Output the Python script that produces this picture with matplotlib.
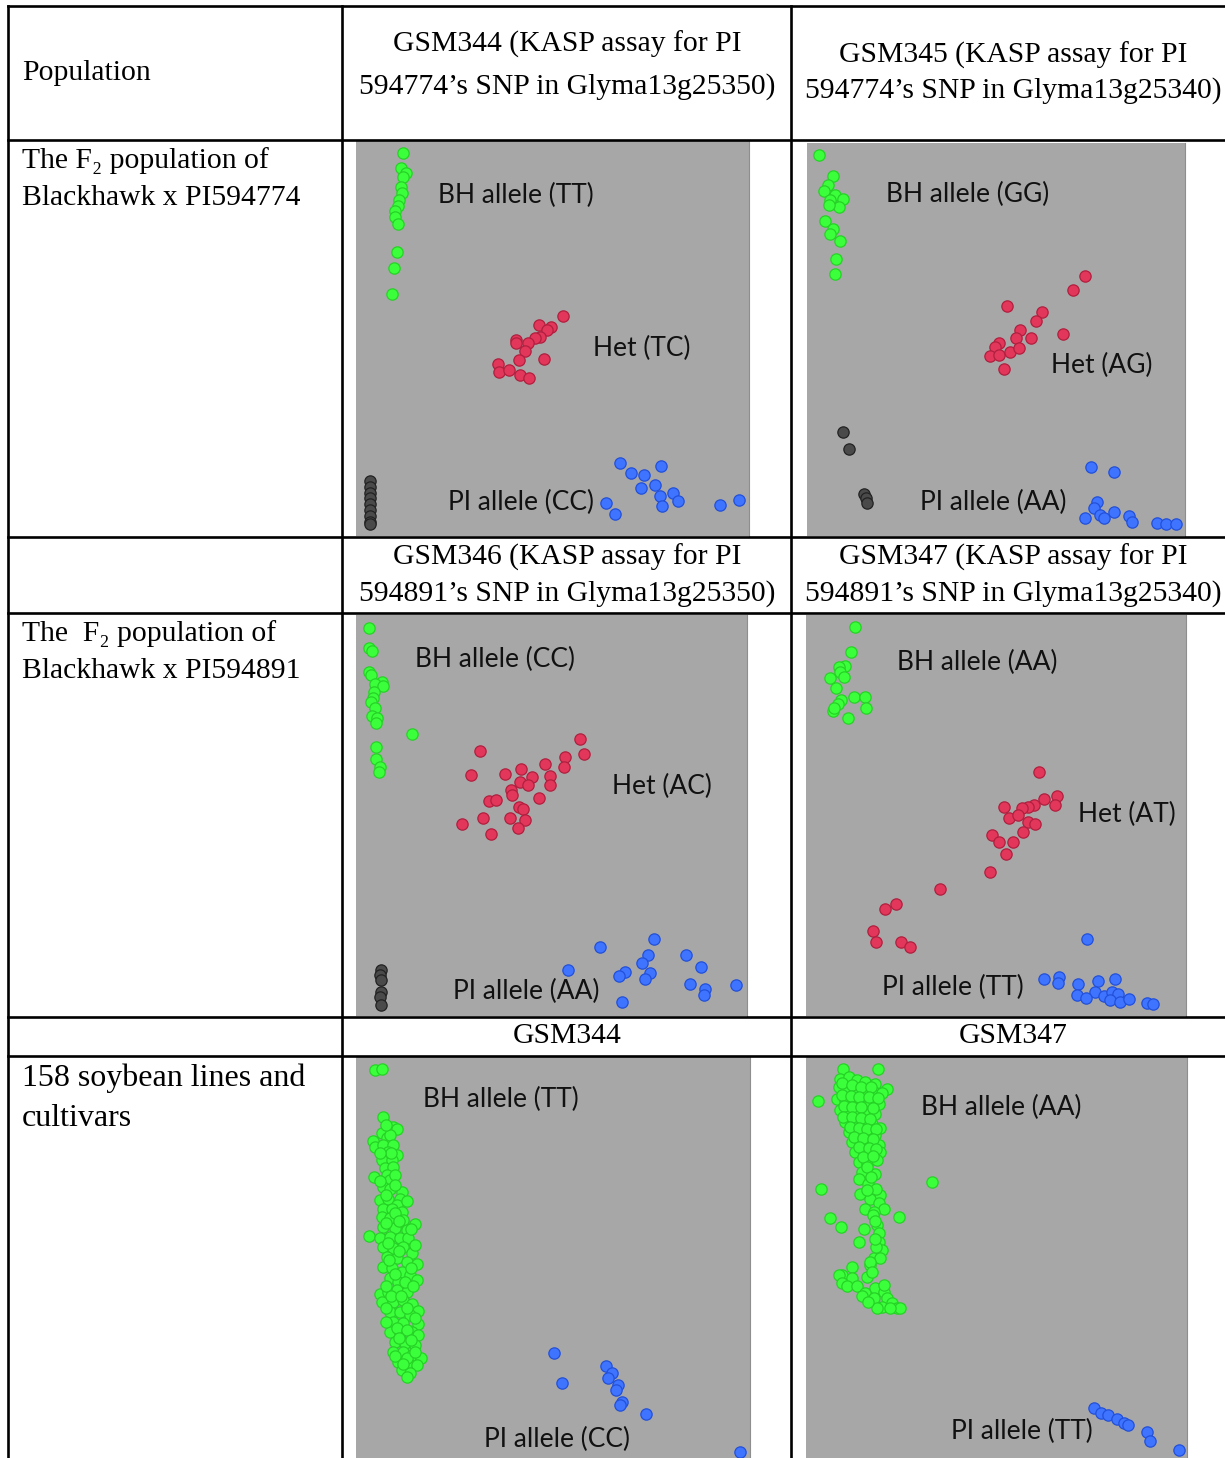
import matplotlib

matplotlib.use("Agg")
import matplotlib.pyplot as plt
from matplotlib.lines import Line2D

W, H = 1225, 1458

# KASP cluster plots (normalised FAM / HEX signal, 0-1)
# GSM344 on the Blackhawk x PI594774 F2
gsm344_f2_bh = [(0.120, 0.969), (0.114, 0.931), (0.126, 0.918), (0.120, 0.910), (0.114, 0.884),
                (0.118, 0.868), (0.110, 0.851), (0.108, 0.835), (0.099, 0.824), (0.099, 0.807),
                (0.108, 0.789), (0.105, 0.720), (0.097, 0.678), (0.091, 0.612)]
gsm344_f2_het = [(0.527, 0.557), (0.465, 0.534), (0.497, 0.530), (0.485, 0.522), (0.468, 0.505),
                 (0.455, 0.500), (0.438, 0.488), (0.408, 0.496), (0.408, 0.488), (0.431, 0.468),
                 (0.478, 0.449), (0.415, 0.446), (0.362, 0.435), (0.364, 0.416), (0.390, 0.420),
                 (0.417, 0.408), (0.440, 0.401)]
gsm344_f2_pi = [(0.671, 0.186), (0.775, 0.176), (0.701, 0.159), (0.732, 0.154), (0.760, 0.129),
                (0.725, 0.121), (0.807, 0.108), (0.773, 0.100), (0.819, 0.089), (0.637, 0.083),
                (0.779, 0.076), (0.658, 0.056), (0.925, 0.078), (0.974, 0.091)]
gsm344_f2_ntc = [(0.036, 0.140), (0.036, 0.125), (0.036, 0.110), (0.036, 0.095), (0.036, 0.081),
                 (0.036, 0.066), (0.036, 0.051), (0.036, 0.036), (0.036, 0.030)]

# GSM345 on the Blackhawk x PI594774 F2
gsm345_f2_bh = [(0.033, 0.969), (0.070, 0.916), (0.055, 0.892), (0.044, 0.877), (0.075, 0.867),
                (0.094, 0.857), (0.060, 0.854), (0.084, 0.836), (0.057, 0.842), (0.048, 0.802),
                (0.070, 0.782), (0.062, 0.769), (0.088, 0.750), (0.078, 0.704), (0.075, 0.666)]
gsm345_f2_het = [(0.736, 0.662), (0.705, 0.625), (0.529, 0.585), (0.623, 0.569), (0.605, 0.548),
                 (0.564, 0.524), (0.677, 0.515), (0.552, 0.505), (0.592, 0.503), (0.509, 0.490),
                 (0.498, 0.481), (0.483, 0.458), (0.507, 0.460), (0.537, 0.469), (0.561, 0.479),
                 (0.520, 0.426)]
gsm345_f2_pi = [(0.752, 0.176), (0.811, 0.164), (0.767, 0.087), (0.758, 0.070), (0.775, 0.053),
                (0.811, 0.060), (0.736, 0.047), (0.787, 0.045), (0.852, 0.051), (0.859, 0.036),
                (0.925, 0.034), (0.950, 0.031), (0.976, 0.030)]
gsm345_f2_ntc = [(0.095, 0.265), (0.112, 0.221), (0.152, 0.107), (0.157, 0.096), (0.160, 0.085)]

# GSM346 on the Blackhawk x PI594891 F2
gsm346_f2_bh = [(0.033, 0.968), (0.034, 0.917), (0.042, 0.910), (0.034, 0.859), (0.038, 0.850),
                (0.067, 0.834), (0.049, 0.827), (0.068, 0.823), (0.047, 0.809), (0.044, 0.792),
                (0.038, 0.782), (0.049, 0.769), (0.040, 0.749), (0.053, 0.742), (0.051, 0.730),
                (0.144, 0.703), (0.051, 0.671), (0.050, 0.642), (0.061, 0.620), (0.059, 0.609)]
gsm346_f2_het = [(0.573, 0.692), (0.584, 0.653), (0.316, 0.661), (0.535, 0.646), (0.531, 0.621),
                 (0.484, 0.628), (0.294, 0.600), (0.380, 0.603), (0.422, 0.617), (0.450, 0.595),
                 (0.497, 0.598), (0.497, 0.576), (0.420, 0.584), (0.441, 0.577), (0.396, 0.563),
                 (0.398, 0.551), (0.468, 0.544), (0.340, 0.536), (0.358, 0.538), (0.418, 0.522),
                 (0.428, 0.516), (0.324, 0.493), (0.394, 0.495), (0.433, 0.490), (0.272, 0.478),
                 (0.345, 0.455), (0.414, 0.469)]
gsm346_f2_pi = [(0.761, 0.193), (0.623, 0.172), (0.746, 0.151), (0.731, 0.131), (0.844, 0.151),
                (0.882, 0.122), (0.542, 0.114), (0.689, 0.110), (0.672, 0.100), (0.751, 0.106),
                (0.740, 0.093), (0.855, 0.081), (0.893, 0.067), (0.889, 0.052), (0.973, 0.077),
                (0.680, 0.035)]
gsm346_f2_ntc = [(0.063, 0.114), (0.061, 0.101), (0.063, 0.089), (0.064, 0.060), (0.061, 0.047),
                 (0.063, 0.028)]

# GSM347 on the Blackhawk x PI594891 F2
gsm347_f2_bh = [(0.130, 0.969), (0.118, 0.908), (0.103, 0.874), (0.086, 0.871), (0.090, 0.859),
                (0.099, 0.846), (0.062, 0.844), (0.080, 0.817), (0.125, 0.796), (0.156, 0.796),
                (0.092, 0.788), (0.084, 0.777), (0.159, 0.767), (0.071, 0.760), (0.073, 0.769),
                (0.110, 0.742)]
gsm347_f2_het = [(0.612, 0.609), (0.660, 0.549), (0.625, 0.542), (0.656, 0.526), (0.599, 0.526),
                 (0.585, 0.520), (0.568, 0.519), (0.520, 0.522), (0.533, 0.493), (0.559, 0.501),
                 (0.583, 0.484), (0.603, 0.480), (0.572, 0.459), (0.489, 0.451), (0.507, 0.433),
                 (0.546, 0.434), (0.527, 0.403), (0.485, 0.359), (0.353, 0.316), (0.237, 0.280),
                 (0.207, 0.266), (0.176, 0.212), (0.184, 0.185), (0.250, 0.185), (0.273, 0.171)]
gsm347_f2_pi = [(0.739, 0.193), (0.627, 0.092), (0.667, 0.097), (0.664, 0.083), (0.717, 0.081),
                (0.768, 0.087), (0.813, 0.093), (0.761, 0.060), (0.713, 0.053), (0.737, 0.045),
                (0.783, 0.050), (0.805, 0.060), (0.822, 0.056), (0.800, 0.039), (0.826, 0.035),
                (0.851, 0.042), (0.897, 0.033), (0.914, 0.031)]

# GSM344 on 158 soybean lines and cultivars
gsm344_lines_bh = [(0.048, 0.967), (0.065, 0.971), (0.068, 0.851), (0.065, 0.811), (0.095, 0.826),
                   (0.103, 0.821), (0.042, 0.790), (0.078, 0.797), (0.086, 0.805), (0.048, 0.776),
                   (0.069, 0.780), (0.095, 0.780), (0.082, 0.763), (0.103, 0.755), (0.065, 0.743),
                   (0.091, 0.743), (0.074, 0.722), (0.095, 0.726), (0.046, 0.701), (0.078, 0.705),
                   (0.086, 0.693), (0.069, 0.676), (0.086, 0.672), (0.116, 0.664), (0.061, 0.643),
                   (0.082, 0.647), (0.112, 0.647), (0.103, 0.631), (0.069, 0.622), (0.091, 0.622),
                   (0.116, 0.614), (0.065, 0.602), (0.086, 0.598), (0.120, 0.593), (0.150, 0.583),
                   (0.034, 0.553), (0.069, 0.577), (0.099, 0.573), (0.129, 0.568), (0.061, 0.548),
                   (0.086, 0.552), (0.112, 0.548), (0.133, 0.548), (0.069, 0.527), (0.095, 0.523),
                   (0.120, 0.527), (0.141, 0.510), (0.078, 0.502), (0.103, 0.498), (0.129, 0.489),
                   (0.156, 0.485), (0.069, 0.477), (0.091, 0.473), (0.116, 0.464), (0.137, 0.456),
                   (0.154, 0.444), (0.086, 0.448), (0.107, 0.439), (0.061, 0.410), (0.082, 0.414),
                   (0.103, 0.419), (0.129, 0.414), (0.065, 0.390), (0.095, 0.390), (0.120, 0.394),
                   (0.141, 0.385), (0.158, 0.366), (0.086, 0.365), (0.112, 0.365), (0.137, 0.356),
                   (0.095, 0.340), (0.120, 0.336), (0.158, 0.333), (0.086, 0.315), (0.112, 0.311),
                   (0.141, 0.315), (0.158, 0.307), (0.099, 0.290), (0.124, 0.286), (0.150, 0.282),
                   (0.095, 0.265), (0.120, 0.265), (0.141, 0.257), (0.164, 0.249), (0.107, 0.240),
                   (0.133, 0.236), (0.154, 0.232), (0.116, 0.220), (0.137, 0.211), (0.129, 0.203),
                   (0.075, 0.830), (0.090, 0.760), (0.060, 0.760), (0.100, 0.705), (0.060, 0.690),
                   (0.100, 0.680), (0.075, 0.655), (0.130, 0.640), (0.100, 0.610), (0.075, 0.585),
                   (0.110, 0.590), (0.140, 0.570), (0.080, 0.535), (0.150, 0.530), (0.110, 0.515),
                   (0.085, 0.495), (0.140, 0.475), (0.100, 0.460), (0.075, 0.430), (0.125, 0.440),
                   (0.145, 0.430), (0.090, 0.405), (0.115, 0.405), (0.075, 0.375), (0.130, 0.375),
                   (0.150, 0.350), (0.105, 0.325), (0.130, 0.320), (0.075, 0.340), (0.110, 0.300),
                   (0.140, 0.295), (0.130, 0.250), (0.100, 0.255), (0.150, 0.265), (0.120, 0.235)]
gsm344_lines_pi = [(0.503, 0.261), (0.524, 0.188), (0.635, 0.230), (0.651, 0.213), (0.639, 0.200),
                   (0.664, 0.182), (0.660, 0.169), (0.674, 0.140), (0.670, 0.132), (0.736, 0.110),
                   (0.975, 0.016)]

# GSM347 on 158 soybean lines and cultivars
gsm347_lines_bh = [(0.096, 0.969), (0.189, 0.969), (0.031, 0.890), (0.213, 0.919), (0.090, 0.946),
                   (0.112, 0.950), (0.134, 0.942), (0.156, 0.938), (0.182, 0.933), (0.086, 0.925),
                   (0.108, 0.921), (0.129, 0.917), (0.151, 0.913), (0.178, 0.913), (0.199, 0.909),
                   (0.081, 0.896), (0.103, 0.892), (0.125, 0.888), (0.147, 0.892), (0.169, 0.888),
                   (0.191, 0.884), (0.090, 0.867), (0.112, 0.863), (0.134, 0.863), (0.156, 0.859),
                   (0.182, 0.859), (0.103, 0.838), (0.125, 0.834), (0.147, 0.834), (0.173, 0.834),
                   (0.195, 0.822), (0.112, 0.813), (0.134, 0.809), (0.156, 0.809), (0.182, 0.805),
                   (0.121, 0.789), (0.143, 0.784), (0.169, 0.784), (0.191, 0.780), (0.129, 0.764),
                   (0.151, 0.760), (0.178, 0.764), (0.195, 0.764), (0.138, 0.739), (0.160, 0.734),
                   (0.186, 0.743), (0.147, 0.714), (0.182, 0.709), (0.138, 0.697), (0.164, 0.684),
                   (0.331, 0.689), (0.040, 0.670), (0.143, 0.659), (0.195, 0.655), (0.169, 0.647),
                   (0.191, 0.635), (0.156, 0.622), (0.204, 0.622), (0.178, 0.614), (0.062, 0.599),
                   (0.243, 0.600), (0.092, 0.576), (0.151, 0.572), (0.186, 0.581), (0.191, 0.560),
                   (0.138, 0.539), (0.191, 0.539), (0.199, 0.519), (0.178, 0.498), (0.169, 0.481),
                   (0.121, 0.477), (0.195, 0.498), (0.169, 0.490), (0.094, 0.456), (0.086, 0.456),
                   (0.121, 0.448), (0.160, 0.452), (0.173, 0.465), (0.094, 0.436), (0.108, 0.428),
                   (0.134, 0.428), (0.182, 0.423), (0.156, 0.411), (0.147, 0.403), (0.204, 0.415),
                   (0.178, 0.398), (0.213, 0.398), (0.199, 0.377), (0.226, 0.386), (0.239, 0.373),
                   (0.248, 0.373), (0.221, 0.373), (0.186, 0.373), (0.164, 0.390), (0.204, 0.431),
                   (0.095, 0.935), (0.120, 0.930), (0.145, 0.925), (0.170, 0.925), (0.095, 0.905),
                   (0.118, 0.902), (0.140, 0.900), (0.165, 0.900), (0.190, 0.898), (0.100, 0.878),
                   (0.122, 0.876), (0.145, 0.875), (0.175, 0.872), (0.098, 0.850), (0.122, 0.850),
                   (0.145, 0.848), (0.168, 0.845), (0.115, 0.825), (0.138, 0.822), (0.160, 0.820),
                   (0.185, 0.820), (0.125, 0.800), (0.150, 0.797), (0.175, 0.795), (0.140, 0.775),
                   (0.165, 0.773), (0.185, 0.770), (0.150, 0.750), (0.175, 0.752), (0.160, 0.725),
                   (0.170, 0.700), (0.185, 0.672), (0.160, 0.668), (0.175, 0.605), (0.182, 0.590),
                   (0.185, 0.525), (0.180, 0.545)]
gsm347_lines_pi = [(0.755, 0.124), (0.773, 0.111), (0.793, 0.106), (0.816, 0.097), (0.834, 0.088),
                   (0.845, 0.082), (0.895, 0.066), (0.904, 0.042), (0.980, 0.020)]

col_headers = [
    ["GSM344 (KASP assay for PI", "594774\u2019s SNP in Glyma13g25350)"],
    ["GSM345 (KASP assay for PI", "594774\u2019s SNP in Glyma13g25340)"],
    ["GSM346 (KASP assay for PI", "594891\u2019s SNP in Glyma13g25350)"],
    ["GSM347 (KASP assay for PI", "594891\u2019s SNP in Glyma13g25340)"],
    ["GSM344"],
    ["GSM347"],
]
row_labels = [
    ["Population"],
    ["The F\u2082 population of", "Blackhawk x PI594774"],
    ["The  F\u2082 population of", "Blackhawk x PI594891"],
    ["158 soybean lines and", "cultivars"],
]

STYLE = {
    "bh": ("#3cff3c", "#26d226"),
    "het": ("#e2365a", "#b0203f"),
    "pi": ("#3e74ff", "#2350d8"),
    "ntc": ("#4a4a4a", "#222222"),
}
SERIF = ["Liberation Serif", "DejaVu Serif"]
SANS = "Lato"


def box(x0, y0, x1, y1):
    # pixel box (top-left origin) -> figure fraction rect
    return [x0 / W, 1 - y1 / H, (x1 - x0) / W, (y1 - y0) / H]


def cluster_plot(fig, rect, clusters, labels):
    ax = fig.add_axes(rect)
    ax.set_facecolor("#a7a7a7")
    ax.set_xlim(0, 1)
    ax.set_ylim(0, 1)
    ax.set_xticks([])
    ax.set_yticks([])
    for s in ax.spines.values():
        s.set_visible(False)
    ax.spines["right"].set_visible(True)
    ax.spines["right"].set_color("#8e8e8e")
    for key, pts in clusters:
        xs, ys = zip(*pts)
        face, edge = STYLE[key]
        ax.scatter(xs, ys, s=66, c=face, edgecolors=edge, linewidths=0.9, zorder=3)
    for x, y, txt in labels:
        ax.text(x, y, txt, transform=ax.transAxes, ha="left", va="center",
                fontsize=19, family=SANS, color="#111111", zorder=4)
    return ax


fig = plt.figure(figsize=(W / 100, H / 100), dpi=100)
fig.patch.set_facecolor("white")

panels = [
    (box(356, 141, 749, 536),
     [("bh", gsm344_f2_bh), ("het", gsm344_f2_het), ("pi", gsm344_f2_pi), ("ntc", gsm344_f2_ntc)],
     [(0.209, 0.863, "BH allele (TT)"), (0.603, 0.475, "Het (TC)"), (0.235, 0.084, "PI allele (CC)")]),
    (box(807, 143, 1185, 536),
     [("bh", gsm345_f2_bh), ("het", gsm345_f2_het), ("pi", gsm345_f2_pi), ("ntc", gsm345_f2_ntc)],
     [(0.210, 0.869, "BH allele (GG)"), (0.646, 0.435, "Het (AG)"), (0.298, 0.086, "PI allele (AA)")]),
    (box(356, 615, 747, 1016),
     [("bh", gsm346_f2_bh), ("het", gsm346_f2_het), ("pi", gsm346_f2_pi), ("ntc", gsm346_f2_ntc)],
     [(0.151, 0.890, "BH allele (CC)"), (0.654, 0.572, "Het (AC)"), (0.247, 0.060, "PI allele (AA)")]),
    (box(806, 615, 1186, 1016),
     [("bh", gsm347_f2_bh), ("het", gsm347_f2_het), ("pi", gsm347_f2_pi)],
     [(0.239, 0.882, "BH allele (AA)"), (0.717, 0.502, "Het (AT)"), (0.200, 0.070, "PI allele (TT)")]),
    (box(356, 1057, 750, 1458),
     [("bh", gsm344_lines_bh), ("pi", gsm344_lines_pi)],
     [(0.171, 0.895, "BH allele (TT)"), (0.325, 0.045, "PI allele (CC)")]),
    (box(806, 1057, 1187, 1458),
     [("bh", gsm347_lines_bh), ("pi", gsm347_lines_pi)],
     [(0.302, 0.873, "BH allele (AA)"), (0.381, 0.066, "PI allele (TT)")]),
]
for rect, clusters, labels in panels:
    cluster_plot(fig, rect, clusters, labels)

# table grid
lw = 1.9
for y in [6, 140, 537, 613, 1017, 1056]:
    fig.add_artist(Line2D([8 / W, 1], [1 - y / H] * 2, color="black", lw=lw))
for x in [8, 342, 791]:
    fig.add_artist(Line2D([x / W] * 2, [1 - 6 / H, 0], color="black", lw=lw))

# header cells (centre x, line centre y values)
hdr_pos = [
    (567, [44, 87]), (1013, [55, 91]),
    (567, [557, 594]), (1013, [557, 594]),
    (567, [1036]), (1013, [1036]),
]
for (cx, ys), lines in zip(hdr_pos, col_headers):
    for y, txt in zip(ys, lines):
        fig.text(cx / W, 1 - y / H, txt, ha="center", va="center", fontsize=21.3, family=SERIF)

row_pos = [[73], [161, 198], [634, 671], [1078, 1118]]
row_size = [21.3, 21.3, 21.3, 23]
for ys, lines, fs in zip(row_pos, row_labels, row_size):
    for y, txt in zip(ys, lines):
        fig.text(22 / W, 1 - y / H, txt, ha="left", va="center", fontsize=fs, family=SERIF)

fig.savefig("out.png", dpi=100)
